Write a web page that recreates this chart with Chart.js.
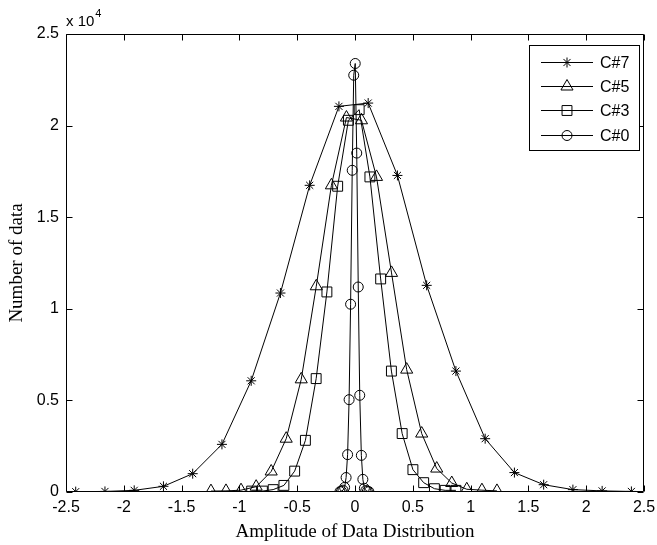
<!DOCTYPE html>
<html>
<head>
<meta charset="utf-8">
<script src="https://cdn.jsdelivr.net/npm/chart.js@4.4.1/dist/chart.umd.min.js"></script>
<style>
html,body{margin:0;padding:0;background:#fff;}
#c{display:block;}
</style>
</head>
<body>
<canvas id="c" width="657" height="545"></canvas>
<script>
// ---- data ----
const seriesLabels = ['C#7', 'C#5', 'C#3', 'C#0'];

const c7x = [-2.416, -2.163, -1.910, -1.657, -1.404, -1.151, -0.898, -0.645, -0.392, -0.139, 0.114, 0.367, 0.620, 0.873, 1.126, 1.379, 1.632, 1.885, 2.138, 2.391];
const c7y = [20, 30, 90, 310, 1000, 2600, 6070, 10860, 16740, 21050, 21230, 17280, 11280, 6600, 2910, 1060, 400, 130, 60, 30];

const c5x = [-1.246, -1.116, -0.986, -0.855, -0.725, -0.595, -0.465, -0.335, -0.204, -0.074, 0.056, 0.186, 0.316, 0.447, 0.577, 0.707, 0.837, 0.967, 1.098, 1.228];
const c5y = [50, 60, 100, 290, 1120, 2910, 6150, 11230, 16740, 20440, 20290, 17200, 11960, 6680, 3190, 1280, 490, 150, 100, 60];

const c3x = [-0.894, -0.801, -0.708, -0.615, -0.522, -0.429, -0.336, -0.243, -0.150, -0.057, 0.036, 0.129, 0.222, 0.315, 0.408, 0.501, 0.594, 0.687, 0.780, 0.873];
const c3y = [50, 50, 130, 360, 1140, 2820, 6190, 10920, 16690, 20290, 20870, 17200, 11630, 6600, 3190, 1220, 510, 180, 90, 90];

const c0x = [-0.130, -0.117, -0.104, -0.090, -0.077, -0.064, -0.051, -0.038, -0.024, -0.011, 0.002, 0.015, 0.028, 0.041, 0.055, 0.068, 0.081, 0.094, 0.107, 0.120];
const c0y = [20, 40, 100, 250, 790, 2040, 5040, 10250, 17560, 22750, 23390, 18500, 11190, 5280, 2000, 690, 200, 80, 40, 20];

const xTickValues = [-2.5, -2, -1.5, -1, -0.5, 0, 0.5, 1, 1.5, 2, 2.5];
const yTickValues = [0, 5000, 10000, 15000, 20000, 25000];
const yScaleExponent = 4;

const xTitle = 'Amplitude of Data Distribution';
const yTitle = 'Number of data';

// ---- build ----
const styles = [
  {pointStyle: 'star', radius: 5},
  {pointStyle: 'triangle', radius: 7},
  {pointStyle: 'rect', radius: 7},
  {pointStyle: 'circle', radius: 5}
];
const xs = [c7x, c5x, c3x, c0x];
const ys = [c7y, c5y, c3y, c0y];

const datasets = seriesLabels.map((lab, i) => ({
  label: lab,
  data: xs[i].map((x, k) => ({x: x, y: ys[i][k]})),
  showLine: true,
  borderColor: '#000',
  borderWidth: 1,
  backgroundColor: 'rgba(0,0,0,0)',
  pointStyle: styles[i].pointStyle,
  pointRadius: styles[i].radius,
  pointHoverRadius: styles[i].radius,
  pointBorderColor: '#000',
  pointBackgroundColor: 'rgba(0,0,0,0)',
  pointBorderWidth: 1,
  tension: 0
}));

function drawMarker(ctx, style, r, x, y) {
  ctx.beginPath();
  if (style === 'circle') {
    ctx.arc(x, y, r, 0, Math.PI * 2);
  } else if (style === 'rect') {
    const s = r * Math.SQRT1_2;
    ctx.rect(x - s, y - s, 2 * s, 2 * s);
  } else if (style === 'triangle') {
    let a = 0;
    ctx.moveTo(x + Math.sin(a) * r, y - Math.cos(a) * r);
    a += Math.PI * 2 / 3;
    ctx.lineTo(x + Math.sin(a) * r, y - Math.cos(a) * r);
    a += Math.PI * 2 / 3;
    ctx.lineTo(x + Math.sin(a) * r, y - Math.cos(a) * r);
    ctx.closePath();
  } else if (style === 'star') {
    for (let k = 0; k < 4; k++) {
      const a = k * Math.PI / 4;
      ctx.moveTo(x - Math.cos(a) * r, y - Math.sin(a) * r);
      ctx.lineTo(x + Math.cos(a) * r, y + Math.sin(a) * r);
    }
  }
  ctx.stroke();
}

const framePlugin = {
  id: 'frame',
  afterDatasetsDraw(chart) {
    const ctx = chart.ctx;
    const {left, right, top, bottom} = chart.chartArea;
    const xs_ = chart.scales.x, ys_ = chart.scales.y;
    ctx.save();
    ctx.strokeStyle = '#000';
    ctx.lineWidth = 1;
    const L = Math.round(left) + 0.5, R = Math.round(right) - 0.5;
    const T = Math.round(top) + 0.5, B = Math.round(bottom) - 0.5;
    ctx.beginPath();
    ctx.rect(L, T, R - L, B - T);
    ctx.stroke();
    const tl = 6;
    ctx.beginPath();
    xs_.ticks.forEach(t => {
      const px = Math.round(xs_.getPixelForValue(t.value)) + 0.5;
      ctx.moveTo(px, B); ctx.lineTo(px, B - tl);
      ctx.moveTo(px, T); ctx.lineTo(px, T + tl);
    });
    ys_.ticks.forEach(t => {
      const py = Math.round(ys_.getPixelForValue(t.value)) + 0.5;
      ctx.moveTo(L, py); ctx.lineTo(L + tl, py);
      ctx.moveTo(R, py); ctx.lineTo(R - tl, py);
    });
    ctx.stroke();

    // exponent label
    ctx.fillStyle = '#000';
    ctx.textBaseline = 'alphabetic';
    ctx.textAlign = 'left';
    ctx.font = '15px "Liberation Sans", Arial, sans-serif';
    ctx.fillText('x 10', left, top - 8);
    const w = ctx.measureText('x 10').width;
    ctx.font = '11px "Liberation Sans", Arial, sans-serif';
    ctx.fillText(String(yScaleExponent), left + w + 1, top - 17);

    // legend
    const lx = 529, ly = 45, lw = 110, lh = 105;
    ctx.fillStyle = '#fff';
    ctx.fillRect(lx, ly, lw, lh);
    ctx.strokeRect(lx + 0.5, ly + 0.5, lw, lh);
    const rowH = 24.2;
    chart.data.datasets.forEach((ds, i) => {
      const cy = Math.round(ly + 17 + i * rowH) + 0.5;
      ctx.beginPath();
      ctx.moveTo(lx + 12, cy); ctx.lineTo(lx + 64, cy);
      ctx.stroke();
      drawMarker(ctx, ds.pointStyle, ds.pointRadius, lx + 38, cy);
      ctx.fillStyle = '#000';
      ctx.font = '16px "Liberation Sans", Arial, sans-serif';
      ctx.textBaseline = 'middle';
      ctx.fillText(ds.label, lx + 71, cy + 1);
    });
    ctx.restore();
  }
};

new Chart(document.getElementById('c'), {
  type: 'scatter',
  data: {datasets: datasets},
  options: {
    responsive: false,
    animation: false,
    devicePixelRatio: 1,
    layout: {padding: {top: 34, right: 13, left: 0, bottom: 0}},
    plugins: {legend: {display: false}, tooltip: {enabled: false}},
    scales: {
      x: {
        type: 'linear',
        min: -2.5, max: 2.5,
        afterBuildTicks: s => { s.ticks = xTickValues.map(v => ({value: v})); },
        afterFit: s => { s.height = 53; s.paddingLeft = 0; s.paddingRight = 0; },
        grid: {display: false, drawTicks: false},
        border: {display: false},
        ticks: {
          padding: 6,
          color: '#000',
          maxRotation: 0,
          autoSkip: false,
          font: {family: '"Liberation Sans", Arial, sans-serif', size: 16},
          callback: v => String(v)
        },
        title: {
          display: true, text: xTitle, color: '#000',
          font: {family: '"Liberation Serif", "Times New Roman", serif', size: 19},
          padding: {top: 0, bottom: 2}
        }
      },
      y: {
        type: 'linear',
        min: 0, max: 25000,
        afterBuildTicks: s => { s.ticks = yTickValues.map(v => ({value: v})); },
        afterFit: s => { s.width = 66; s.paddingTop = 0; s.paddingBottom = 0; },
        grid: {display: false, drawTicks: false},
        border: {display: false},
        ticks: {
          padding: 7,
          color: '#000',
          autoSkip: false,
          font: {family: '"Liberation Sans", Arial, sans-serif', size: 16},
          callback: v => String(v / Math.pow(10, yScaleExponent))
        },
        title: {
          display: true, text: yTitle, color: '#000',
          font: {family: '"Liberation Serif", "Times New Roman", serif', size: 19},
          padding: {top: 6, bottom: 0}
        }
      }
    }
  },
  plugins: [framePlugin]
});
</script>
</body>
</html>
